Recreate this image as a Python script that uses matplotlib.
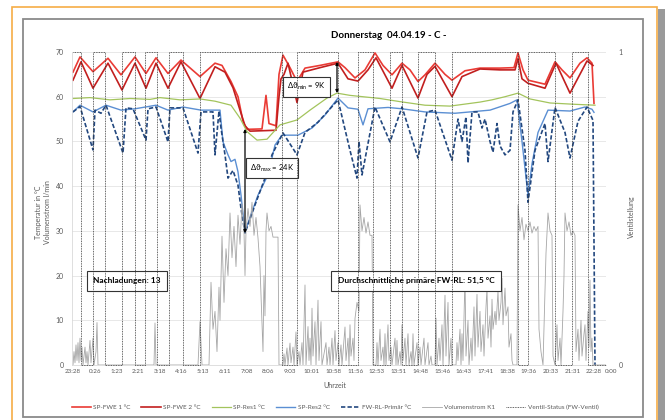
import matplotlib.pyplot as plt
from matplotlib.patches import Rectangle
from matplotlib.lines import Line2D

plt.rcParams['font.family'] = ['Lato', 'DejaVu Sans']
plt.rcParams['mathtext.fontset'] = 'custom'
plt.rcParams['mathtext.rm'] = 'Lato'
plt.rcParams['mathtext.default'] = 'regular'

# x = Messpunkt (Index), Beschriftung alle ~21.7 Punkte
time_labels = ['23:28', '0:26', '1:23', '2:21', '3:18', '4:16', '5:13', '6:11', '7:08',
               '8:06', '9:03', '10:01', '10:58', '11:56', '12:53', '13:51', '14:48',
               '15:46', '16:43', '17:41', '18:38', '19:36', '20:33', '21:31', '22:28']
end_label = '0:00'
label_step = 21.71
last_idx = 533

fwe1_t = [0, 7, 20, 35, 48, 62, 73, 83, 95, 108, 127, 142, 149, 158, 165, 170, 174, 189, 193, 196,
          203, 206, 210, 217, 224, 232, 247, 265, 272, 282, 292, 302, 310, 319, 329, 337, 345, 352,
          362, 372, 379, 392, 407, 427, 441, 445, 450, 455, 472, 482, 489, 497, 507, 514, 519, 521]
fwe1_v = [65.5, 68.9, 65.6, 68.6, 64.9, 68.9, 65.2, 68.7, 65.2, 68.2, 64.5, 67.5, 67.0, 63.4, 60.0,
          54.5, 52.7, 52.8, 60.3, 54.0, 53.5, 65.0, 69.3, 66.5, 63.4, 66.4, 67.0, 67.8, 66.5, 64.2,
          66.0, 69.8, 67.0, 64.9, 67.5, 66.0, 63.4, 64.9, 67.5, 65.0, 63.7, 65.8, 66.4, 66.4, 66.5,
          69.8, 66.0, 63.7, 62.8, 67.8, 66.0, 64.2, 67.5, 68.7, 67.5, 58.5]

fwe2_t = [0, 8, 20, 35, 49, 62, 73, 83, 95, 108, 127, 142, 152, 160, 167, 172, 177, 203, 206, 208,
          211, 215, 224, 230, 247, 265, 275, 285, 295, 303, 319, 329, 345, 354, 362, 379, 389, 407,
          427, 442, 445, 449, 455, 472, 483, 497, 514, 520]
fwe2_v = [63.7, 67.8, 61.9, 67.5, 61.5, 67.5, 61.9, 67.5, 61.9, 67.8, 59.6, 66.7, 65.5, 62.0, 57.0,
          53.5, 52.3, 52.5, 60.0, 64.0, 65.0, 67.5, 58.7, 65.5, 66.5, 67.5, 64.0, 63.5, 66.0, 68.7,
          61.9, 67.0, 59.7, 65.0, 66.8, 60.0, 64.5, 66.2, 66.0, 66.0, 68.5, 64.0, 63.0, 61.9, 67.5,
          60.8, 68.0, 67.0]

res1_t = [0, 17, 37, 57, 77, 87, 107, 127, 142, 158, 167, 174, 184, 194, 207, 224, 237, 254, 264,
          277, 307, 327, 352, 377, 407, 419, 432, 445, 457, 477, 502, 522]
res1_v = [59.6, 59.8, 59.3, 59.6, 59.4, 59.8, 59.3, 59.5, 59.0, 58.1, 55.2, 52.2, 50.3, 50.5, 53.7,
          54.8, 57.0, 59.7, 60.8, 60.3, 59.6, 58.9, 58.1, 57.9, 58.8, 59.3, 60.0, 60.8, 59.5, 58.6,
          58.3, 58.1]

res2_t = [0, 7, 20, 33, 48, 62, 83, 95, 110, 128, 147, 150, 155, 158, 162, 165, 168, 172, 177, 185,
          195, 202, 209, 225, 239, 252, 265, 275, 285, 290, 295, 315, 329, 339, 352, 382, 417, 437,
          444, 449, 452, 455, 459, 465, 475, 497, 512, 519, 521]
res2_v = [56.6, 58.1, 56.6, 58.1, 57.0, 57.3, 58.1, 57.0, 57.7, 57.0, 57.0, 49.9, 47.0, 45.5, 46.0,
          43.2, 38.0, 29.8, 33.0, 38.0, 42.5, 49.2, 51.4, 51.4, 53.0, 55.9, 59.7, 57.5, 57.2, 53.7,
          57.3, 57.6, 57.3, 57.0, 56.6, 56.3, 57.0, 58.5, 59.3, 50.0, 44.0, 38.0, 45.0, 52.0, 57.0,
          56.8, 57.7, 57.2, 56.5]

rl_t = [0, 7, 20, 22, 28, 33, 50, 53, 60, 73, 75, 83, 95, 97, 110, 125, 128, 140, 142, 146, 148,
        152, 155, 160, 165, 168, 172, 182, 192, 199, 210, 224, 232, 245, 265, 277, 284, 286, 289,
        302, 317, 329, 345, 354, 362, 379, 385, 389, 393, 395, 399, 405, 409, 412, 417, 420, 424,
        427, 432, 437, 440, 445, 452, 455, 462, 467, 472, 475, 482, 492, 497, 505, 514, 520, 522]
rl_v = [56.6, 57.8, 48.1, 57.0, 56.3, 58.1, 47.4, 57.5, 57.3, 50.3, 57.3, 57.7, 49.9, 57.5, 57.5,
        47.4, 56.6, 56.6, 47.0, 56.8, 53.0, 47.0, 41.8, 43.5, 40.2, 35.0, 29.5, 35.8, 41.8, 47.0,
        51.9, 47.0, 52.0, 54.3, 59.3, 48.0, 41.8, 50.0, 42.5, 57.7, 49.9, 57.7, 46.3, 56.6, 57.0,
        45.8, 55.0, 50.0, 55.5, 45.2, 56.6, 56.6, 53.0, 55.0, 50.0, 47.6, 54.0, 49.0, 47.0, 48.0,
        56.6, 59.3, 48.0, 36.4, 48.0, 51.0, 54.0, 45.5, 57.6, 52.0, 46.3, 54.5, 57.7, 54.7, 0.0]

flow_t = [0, 1, 2, 3, 4, 5, 6, 7, 8, 9, 10, 12, 13, 14, 15, 17, 18, 20, 21, 23, 24, 25, 27,
          81, 82, 83, 125, 127, 129,
          136, 138, 140, 142, 144, 146, 147, 149, 151, 153, 155, 157, 159, 161, 163, 165, 167, 169,
          171, 172, 173, 175, 177, 179, 181, 183, 185, 187, 189, 190, 191, 192, 193, 194, 196, 198,
          200, 205, 206,
          210, 211, 212, 214, 215, 217, 218, 220, 221, 223, 224, 226, 227, 229, 230, 232, 233, 235,
          236, 237, 238, 239, 240, 242, 243, 245, 246, 248, 249, 253, 254, 256, 257, 259, 260, 262,
          263, 265, 266, 268, 269, 272, 273, 275, 276, 277, 278, 280, 281, 282, 284, 286, 287, 289,
          291, 293, 295, 297, 299, 300,
          303, 304, 305, 307, 308, 310, 311, 312, 313, 315, 316, 318, 319, 322, 323, 324, 325, 327,
          328, 329, 330, 332, 333, 335, 336, 338, 339, 340, 341, 344, 345, 347, 348, 351, 352, 355,
          356, 358, 359,
          362, 363, 364, 366, 367, 369, 370, 372, 373, 375, 376, 378, 379,
          383, 384, 385, 387, 388, 389, 390, 392, 393, 395, 396, 398, 399, 401, 402, 404, 405, 407,
          408, 410, 411, 413, 414, 415, 417, 418, 419, 420, 422, 423, 425, 426, 428, 429, 430, 432,
          433, 435, 436, 438, 439, 440,
          444, 445, 447, 449, 451, 453, 455, 457, 459, 461, 463, 465, 466, 468, 470, 473, 475, 477,
          479, 480, 482, 484, 485, 487, 488, 490, 491, 492, 494, 496, 498, 500, 502, 503, 505, 506,
          508, 509, 511, 512, 513, 515, 516, 517, 518, 519, 520, 533]
flow_v = [0, 3, 0.5, 4.5, 1, 5, 0.5, 6, 1, 4, 0, 4, 0.5, 3, 0, 5.5, 0.5, 6, 0, 3, 9.5, 0, 0,
          0, 9.4, 0, 0, 9.7, 0,
          0, 18.5, 8, 12, 3, 17.4, 10, 28.8, 14, 26, 20, 34, 24, 31, 22, 33.5, 27, 36,
          30, 20, 30, 35, 31, 36.4, 29, 33, 28.4, 22, 9.6, 3, 20, 11, 30, 34, 30, 31,
          28.6, 28.6, 0,
          0, 2.5, 0, 3.8, 0, 4.9, 0.5, 4, 0, 7.4, 0, 3, 0, 5, 0, 17.9, 0, 8.6,
          1, 6, 0, 12.7, 2, 9.7, 0, 14.5, 1, 9.7, 0, 5, 0, 4, 0, 6, 0, 7.7,
          1, 5, 0, 4.5, 0, 8.5, 1, 6, 0, 9, 2, 6, 1, 10.4, 14, 12, 35.8, 30,
          33, 29.5, 32, 29, 29, 0,
          0, 5, 0, 8, 1, 4, 0, 7, 0, 9, 1, 4, 0, 6, 0, 5.5, 0, 3,
          0, 9, 1, 6, 0, 7, 0, 3, 0, 7, 0, 5, 0, 4, 0, 6, 0, 5,
          0, 2, 0,
          0, 10.5, 0, 6, 1, 9, 0, 15.6, 2, 14, 0, 6, 0,
          0, 5, 1, 8, 0, 7, 1, 20, 2, 10, 0, 6, 1, 13, 2, 15.8, 4, 12,
          3, 9, 2, 13, 17.2, 6, 11, 4, 14.7, 8, 12, 9, 16.5, 10, 14, 19.4, 9, 17.2,
          11, 13, 4, 7, 1, 0,
          0, 35.8, 30, 33, 28, 31.5, 30, 32, 29.5, 31, 30, 31, 8, 3, 0, 25, 34, 30,
          29, 2, 0, 9, 1, 6, 0, 12, 20, 34, 30, 32, 29, 30, 29, 3, 8, 1,
          10, 2, 7, 9, 1, 12, 4, 19, 3, 6, 0, 0]

valve_t = [0, 8, 20, 32, 49, 62, 72, 84, 96, 110, 127, 209, 224, 265, 285, 300, 317, 329, 345, 362,
           379, 445, 455, 482, 499, 515, 533]
valve_s = [1, 0, 1, 0, 1, 0, 1, 0, 1, 0, 1, 0, 1, 0, 1, 0, 1, 0, 1, 0, 1, 0, 1, 0, 1, 0, 0]

series_labels = ['SP-FWE 1 °C', 'SP-FWE 2 °C', 'SP-Res1 °C', 'SP-Res2 °C', 'FW-RL-Primär °C',
                 'Volumenstrom K1', 'Ventil-Status (FW-Ventil)']

c_fwe1 = '#ea3b35'
c_fwe2 = '#c21f1f'
c_res1 = '#a3c45c'
c_res2 = '#5b8fd3'
c_rl = '#23487f'
c_flow = '#a6a6a6'
c_valve = '#333333'
c_txt = '#595959'

fig = plt.figure(figsize=(6.65, 4.2), dpi=100)
W, H = 665.0, 420.0

# Rahmen (Schatten, orange, grau)
fig.patches.append(Rectangle((658 / W, 0), 7 / W, 1 - 9 / H, transform=fig.transFigure,
                             fc='#9a9a9a', ec='none', zorder=0))
fig.patches.append(Rectangle((12 / W, -0.05), 645 / W, 1 - 7 / H + 0.05, transform=fig.transFigure,
                             fc='white', ec='#f6ad45', lw=1.2, zorder=1))
fig.patches.append(Rectangle((23 / W, 3 / H), 620 / W, 1 - 22 / H, transform=fig.transFigure,
                             fc='white', ec='#8a8a8a', lw=1.3, zorder=2))

ax = fig.add_axes([72 / W, 1 - 365 / H, 534 / W, 313 / H])
ax.set_zorder(3)
ax.patch.set_alpha(0)

ax.plot(fwe1_t, fwe1_v, color=c_fwe1, lw=1.2, label=series_labels[0])
ax.plot(fwe2_t, fwe2_v, color=c_fwe2, lw=1.2, label=series_labels[1])
ax.plot(res1_t, res1_v, color=c_res1, lw=0.9, label=series_labels[2])
ax.plot(res2_t, res2_v, color=c_res2, lw=1.0, label=series_labels[3])
ax.plot(rl_t, rl_v, color=c_rl, lw=1.2, ls=(0, (2.6, 1.3)), label=series_labels[4])
ax.plot(flow_t, flow_v, color=c_flow, lw=0.6, label=series_labels[5])

ax.set_xlim(-1, last_idx)
ax.set_ylim(0, 70)
ax.set_yticks(range(0, 71, 10))
ax.set_xticks([k * label_step for k in range(len(time_labels))])
ax.set_xticklabels(time_labels)
ax.tick_params(axis='both', length=0, labelsize=5, colors=c_txt)
ax.tick_params(axis='x', pad=3, labelsize=4.5)
ax.tick_params(axis='y', pad=6)
ax.annotate(end_label, xy=(last_idx, 0), xycoords='data', xytext=(4, -3),
            textcoords='offset points', ha='center', va='top', fontsize=4.5, color=c_txt,
            annotation_clip=False)
ax.yaxis.grid(True, color='#e4e4e4', lw=0.6)
ax.set_axisbelow(True)
for s in ['top', 'right']:
    ax.spines[s].set_visible(False)
for s in ['left', 'bottom']:
    ax.spines[s].set_color('#d9d9d9')
    ax.spines[s].set_linewidth(0.6)

ax2 = ax.twinx()
ax2.plot(valve_t, valve_s, color=c_valve, lw=0.6, ls=(0, (1, 1)), drawstyle='steps-post',
         clip_on=False, label=series_labels[6])
ax2.set_ylim(0, 1)
ax2.set_yticks([0, 1])
ax2.tick_params(axis='y', length=0, labelsize=5, colors=c_txt, pad=9)
for s in ax2.spines.values():
    s.set_visible(False)

# Delta-Markierungen
arrow = dict(arrowstyle='<|-|>', lw=0.9, color='black', mutation_scale=4, shrinkA=0, shrinkB=0)
ax.annotate('', xy=(172, 29.5), xytext=(172, 52.8), arrowprops=arrow)
ax.annotate('', xy=(264, 60.8), xytext=(264, 67.8), arrowprops=arrow)

box = dict(boxstyle='square,pad=0.55', fc='white', ec='#333333', lw=0.8)
ax.text(199, 44.0, 'Δϑ$_{max}$ = 24K', fontsize=5.5, ha='center', va='center', bbox=box, zorder=6)
ax.text(233.5, 62.2, 'Δϑ$_{min}$ = 9K', fontsize=5.5, ha='center', va='center', bbox=box, zorder=6)
box2 = dict(boxstyle='square,pad=0.75', fc='white', ec='#333333', lw=0.8)
ax.text(54, 18.8, 'Nachladungen: 13', fontsize=6, fontweight='bold', ha='center', va='center',
        bbox=box2, zorder=6)
ax.text(343, 18.8, 'Durchschnittliche primäre FW-RL: 51,5 °C', fontsize=6, fontweight='bold',
        ha='center', va='center', bbox=box2, zorder=6)

fig.text(389 / W, 1 - 35 / H, 'Donnerstag  04.04.19 - C -', fontsize=7, fontweight='bold',
         ha='center', va='center', zorder=5)
fig.text(335 / W, 1 - 385 / H, 'Uhrzeit', fontsize=5, color=c_txt, ha='center', va='center', zorder=5)
fig.text(43 / W, 1 - 212 / H, 'Temperatur in °C\nVolumenstrom l/min', fontsize=5, color=c_txt,
         rotation=90, ha='center', va='center', linespacing=1.3, zorder=5)
fig.text(631 / W, 1 - 217 / H, 'Ventilstellung', fontsize=5, color=c_txt, rotation=90,
         ha='center', va='center', zorder=5)

handles = [Line2D([], [], color=c_fwe1, lw=1.2), Line2D([], [], color=c_fwe2, lw=1.2),
           Line2D([], [], color=c_res1, lw=0.9), Line2D([], [], color=c_res2, lw=1.0),
           Line2D([], [], color=c_rl, lw=1.2, ls=(0, (2.6, 1.3))), Line2D([], [], color=c_flow, lw=0.6),
           Line2D([], [], color=c_valve, lw=0.6, ls=(0, (1, 1)))]
leg = fig.legend(handles, series_labels, loc='center', bbox_to_anchor=(335 / W, 1 - 407 / H), ncol=7,
                 frameon=False, fontsize=4.6, handlelength=3.0, handletextpad=0.4, columnspacing=1.7)
for t in leg.get_texts():
    t.set_color(c_txt)
leg.set_zorder(5)

fig.savefig('out.png', dpi=100)
